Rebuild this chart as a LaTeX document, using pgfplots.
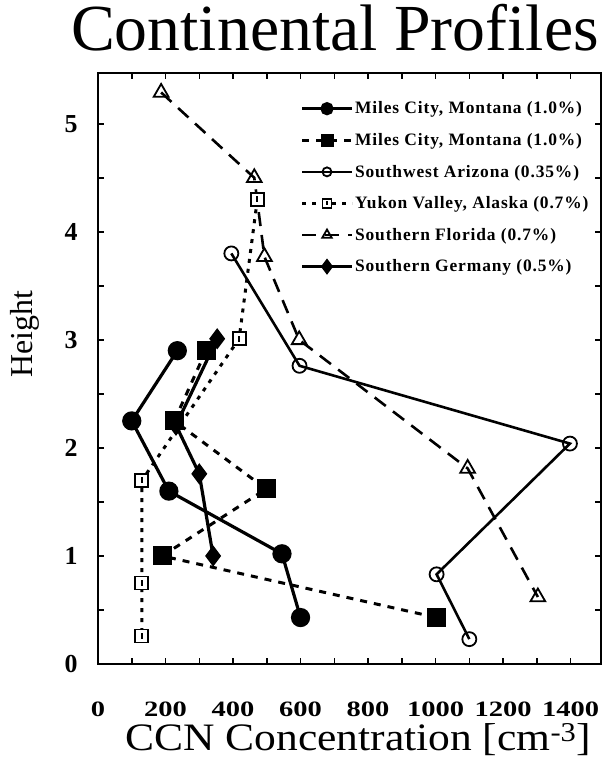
\documentclass[border=0pt]{standalone}
\usepackage{fontspec}
\setmainfont{Liberation Serif}
\newfontfamily\legfont[LetterSpace=5]{Liberation Serif}
\newfontfamily\widefont[FakeStretch=1.3]{Liberation Serif}
\newfontfamily\xlabfont[FakeStretch=1.12]{Liberation Serif}
\usepackage{pgfplots}
\pgfplotsset{compat=1.18}
\pgfdeclareplotmark{sqdot}{%
  \pgfpathrectangle{\pgfqpoint{-\pgfplotmarksize}{-\pgfplotmarksize}}{\pgfqpoint{2\pgfplotmarksize}{2\pgfplotmarksize}}%
  \pgfusepathqfillstroke
  \begin{pgfscope}%
  \pgfsetfillcolor{black}%
  \pgfpathrectangle{\pgfqpoint{-0.15\pgfplotmarksize}{-0.45\pgfplotmarksize}}{\pgfqpoint{0.3\pgfplotmarksize}{0.9\pgfplotmarksize}}%
  \pgfusepathqfill
  \end{pgfscope}%
}
\begin{document}
\begin{tikzpicture}
\useasboundingbox (-98bp,-96bp) rectangle (507bp,664bp);
\begin{axis}[
  scale only axis, width=503bp, height=591bp,
  xmin=0, xmax=1490, ymin=0, ymax=5.47,
  xtick={0,200,...,1400}, minor xtick={100,300,...,1300},
  ytick={0,1,...,5}, minor ytick={0.5,1.5,...,4.5},
  tick align=inside, major tick length=6bp, minor tick length=6bp,
  every tick/.style={black, line width=1.5bp},
  axis line style={line width=2.5bp},
  ticklabel style={font=\fontsize{26}{26}\selectfont\bfseries},
  /pgf/number format/assume math mode=true,
  /pgf/number format/1000 sep={},
  xticklabel style={font=\widefont\fontsize{22}{22}\selectfont\bfseries, inner sep=0pt, yshift=-38bp},
  yticklabel style={xshift=-17bp},
  title={Continental Profiles},
  title style={font=\fontsize{66}{66}\selectfont, at={(axis description cs:0.471,1)}, anchor=base, yshift=17bp},
  xlabel={CCN Concentration [cm\textsuperscript{-3}]},
  xlabel style={font=\xlabfont\fontsize{39}{39}\selectfont, inner sep=0pt, at={(axis description cs:0.517,0)}, anchor=base, yshift=-86bp},
  ylabel={Height},
  ylabel style={font=\fontsize{32}{32}\selectfont, at={(axis description cs:-0.1312,0.558)}, anchor=base},
  legend style={at={(axis description cs:0.402,0.954)}, anchor=north west, draw=none, fill=none,
    font=\legfont\fontsize{17.5}{17.5}\selectfont\bfseries, row sep=15bp, inner sep=0pt, nodes={inner sep=1.5bp}},
  legend cell align=left,
  legend image code/.code={\draw[mark repeat=2, mark phase=2, #1] plot coordinates {(0bp,0bp) (25bp,0bp) (50bp,0bp)};},
]
% Miles City, Montana, filled circles
\addplot[black, line width=3.2bp, mark=*, mark size=8bp, legend image post style={mark size=5bp}]
  coordinates {(235,2.90) (100,2.25) (210,1.60) (545,1.02) (600,0.43)};
\addlegendentry{Miles City, Montana (1.0\%)}
% Miles City, Montana, filled squares
\addplot[black, line width=3bp, dash pattern=on 7bp off 7bp, mark=square*, mark size=8bp, mark options={solid}, legend image post style={mark size=5bp}]
  coordinates {(320,2.90) (226,2.25) (498,1.62) (190,1.00) (1003,0.43)};
\addlegendentry{Miles City, Montana (1.0\%)}
% Southwest Arizona, open circles
\addplot[black, line width=2.6bp, mark=o, mark size=7bp, mark options={solid, fill=white, line width=1.8bp}, legend image post style={mark size=4.5bp}]
  coordinates {(395,3.80) (597,2.76) (1398,2.04) (1003,0.83) (1100,0.23)};
\addlegendentry{Southwest Arizona (0.35\%)}
% Yukon Valley, Alaska, open squares
\addplot[black, line width=3bp, dash pattern=on 4bp off 6bp, mark=sqdot, mark size=6.5bp, mark options={solid, fill=white, line width=1.8bp}, legend image post style={mark size=4.5bp}]
  coordinates {(472,4.30) (418,3.01) (130,1.70) (130,0.75) (130,0.26)};
\addlegendentry{Yukon Valley, Alaska (0.7\%)}
% Southern Florida, open triangles
\addplot[black, line width=2.6bp, dash pattern=on 14bp off 9bp, mark=triangle, mark size=8.5bp, mark options={solid, fill=white, line width=1.8bp}, legend image post style={mark size=5.5bp}]
  coordinates {(187,5.29) (463,4.50) (493,3.77) (596,3.00) (1095,1.81) (1303,0.62)};
\addlegendentry{Southern Florida (0.7\%)}
% Southern Germany, filled diamonds
\addplot[black, line width=3.2bp, mark=diamond*, mark size=8bp, legend image post style={mark size=5.5bp}]
  coordinates {(353,3.01) (231,2.21) (300,1.76) (341,1.00)};
\addlegendentry{Southern Germany (0.5\%)}
\end{axis}
\end{tikzpicture}
\end{document}
